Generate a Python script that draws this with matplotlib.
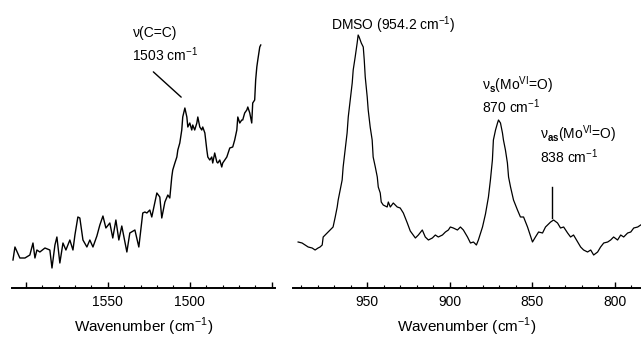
import matplotlib
matplotlib.use("Agg")
import matplotlib.pyplot as plt
from matplotlib.ticker import MultipleLocator, FixedLocator, FixedFormatter

plt.rcParams['font.family'] = ['Liberation Sans', 'DejaVu Sans']
plt.rcParams['mathtext.fontset'] = 'custom'
plt.rcParams['mathtext.rm'] = 'Liberation Sans'
plt.rcParams['mathtext.bf'] = 'Liberation Sans:bold'

# left spectrum (C=C region), intensity in arbitrary units
wn_cc = [1607.9, 1606.7, 1603.7, 1600.6, 1597.6, 1595.7, 1594.5, 1593.3, 1591.5, 1588.4,
         1585.4, 1584.1, 1582.3, 1581.1, 1579.3, 1577.4, 1575.6, 1573.2, 1571.3, 1570.1,
         1568.3, 1567.1, 1565.2, 1562.8, 1561.0, 1559.1, 1556.7, 1554.9, 1553.0, 1551.2,
         1548.8, 1547.0, 1545.1, 1543.3, 1541.5, 1538.4, 1536.6, 1533.5, 1531.1, 1528.7,
         1527.4, 1526.2, 1524.4, 1523.2, 1520.1, 1518.3, 1517.1, 1515.2, 1513.4, 1512.2,
         1511.0, 1510.4, 1509.1, 1507.9, 1507.3, 1506.1, 1504.9, 1504.3, 1503.0, 1501.8,
         1501.2, 1500.0, 1498.8, 1498.2, 1497.0, 1495.7, 1495.1, 1493.9, 1492.7, 1492.1,
         1490.8, 1489.6, 1489.0, 1487.8, 1486.6, 1486.0, 1484.8, 1483.5, 1482.9, 1481.7,
         1480.5, 1479.9, 1477.4, 1475.6, 1473.8, 1472.6, 1471.3, 1470.7, 1469.5, 1468.3,
         1467.7, 1466.5, 1465.2, 1464.6, 1463.4, 1462.2, 1461.6, 1460.4, 1459.8, 1459.1,
         1458.5, 1457.3, 1456.7]
int_cc = [28, 41, 30, 30, 33, 45, 30, 38, 36, 40,
          38, 20, 43, 51, 25, 45, 38, 48, 38, 53,
          71, 70, 48, 41, 48, 41, 52, 63, 72, 60,
          65, 50, 68, 48, 62, 36, 55, 58, 41, 75,
          76, 75, 78, 71, 95, 91, 70, 86, 93, 90,
          111, 118, 125, 131, 138, 145, 158, 171, 180, 171,
          161, 165, 158, 163, 158, 165, 171, 161, 158, 161,
          155, 138, 131, 128, 131, 125, 135, 126, 125, 128,
          121, 125, 131, 140, 141, 148, 158, 171, 165, 168,
          168, 175, 178, 181, 175, 165, 185, 188, 208, 221,
          228, 241, 243]

# right spectrum (Mo=O region)
wn_mo = [991.9, 989.5, 987.7, 985.8, 983.4, 981.6, 979.8, 978.6, 977.3, 976.7,
         974.3, 972.5, 970.7, 969.4, 968.2, 967.6, 966.4, 965.2, 964.6, 963.4,
         962.2, 961.5, 960.3, 959.1, 958.5, 957.3, 956.1, 955.5, 954.9, 953.6,
         952.4, 951.8, 951.2, 950.0, 949.4, 948.2, 947.0, 946.4, 945.1, 943.9,
         943.3, 942.1, 941.5, 940.3, 937.9, 937.2, 936.0, 934.2, 931.8, 930.0,
         928.1, 925.7, 923.9, 920.8, 919.0, 916.6, 914.8, 912.9, 910.5, 908.7,
         906.9, 904.4, 902.6, 900.8, 899.6, 897.8, 895.3, 893.5, 891.7, 889.2,
         887.4, 885.6, 883.8, 882.6, 880.1, 878.3, 876.5, 875.3, 874.1, 873.5,
         872.2, 871.0, 870.4, 869.2, 868.0, 867.4, 866.2, 865.0, 864.3, 863.1,
         861.3, 858.9, 857.1, 855.2, 852.8, 849.8, 848.0, 846.1, 843.7, 841.9,
         838.8, 837.0, 834.6, 832.8, 830.9, 828.5, 826.7, 824.9, 822.4, 820.6,
         818.8, 816.4, 814.5, 812.7, 810.3, 808.5, 806.6, 804.2, 802.4, 800.6,
         798.2, 796.3, 794.5, 792.1, 790.2, 788.4, 786.0, 784.2]
int_mo = [46, 45, 43, 41, 40, 38, 40, 41, 43, 51,
          55, 58, 61, 71, 81, 88, 98, 108, 121, 138,
          155, 171, 188, 205, 218, 231, 245, 253, 251, 245,
          241, 228, 211, 191, 178, 161, 148, 131, 121, 111,
          101, 95, 86, 83, 81, 86, 81, 85, 81, 80,
          75, 65, 57, 50, 53, 58, 51, 48, 50, 53,
          51, 53, 56, 58, 61, 60, 58, 61, 58, 51,
          45, 46, 43, 48, 61, 74, 91, 108, 128, 148,
          158, 165, 168, 165, 155, 148, 138, 125, 111, 101,
          88, 78, 71, 71, 61, 46, 51, 56, 55, 61,
          66, 68, 65, 60, 61, 55, 51, 53, 46, 41,
          38, 36, 38, 33, 36, 41, 45, 46, 48, 51,
          48, 53, 51, 55, 56, 60, 61, 63]

W, H = 641, 340
fig = plt.figure(figsize=(W / 100, H / 100), dpi=100)
ax1 = fig.add_axes([12 / W, 52 / H, 263 / W, 288 / H])
ax2 = fig.add_axes([293 / W, 52 / H, 348 / W, 288 / H])

for ax in (ax1, ax2):
    for s in ('top', 'left', 'right'):
        ax.spines[s].set_visible(False)
    ax.spines['bottom'].set_linewidth(1.4)
    ax.set_yticks([])
    ax.set_ylim(0, 288)
    ax.xaxis.set_minor_locator(MultipleLocator(10))
    ax.tick_params(axis='x', which='major', direction='in', length=4, width=1, labelsize=10, pad=5)
    ax.tick_params(axis='x', which='minor', direction='in', length=2.2, width=0.8)
    ax.set_xlabel('Wavenumber (cm$^{-1}$)', fontsize=11, labelpad=5)

ax1.plot(wn_cc, int_cc, color='black', lw=1.0)
ax1.set_xlim(1608.5, 1448)
ax1.xaxis.set_major_locator(FixedLocator([1600, 1550, 1500, 1450]))
ax1.xaxis.set_major_formatter(FixedFormatter(['', '1550', '1500', '']))

ax2.plot(wn_mo, int_mo, color='black', lw=0.9, clip_on=False)
ax2.set_xlim(995, 784)
ax2.xaxis.set_major_locator(MultipleLocator(50))

# annotations
ax1.annotate('', xy=(1504.0, 189), xytext=(1523.5, 218),
             arrowprops=dict(arrowstyle='-', color='black', lw=1))
ax1.text(1535, 255, 'ν(C=C)', fontsize=10, va='center', ha='left')
ax1.text(1535, 233, '1503 cm$^{-1}$', fontsize=10, va='center', ha='left')

ax2.text(972, 263, 'DMSO (954.2 cm$^{-1}$)', fontsize=10, va='center', ha='left')
ax2.text(880.5, 203, r'ν$_{\mathbf{s}}$(Mo$^{\mathrm{VI}}$=O)', fontsize=10, va='center', ha='left')
ax2.text(880.5, 181, '870 cm$^{-1}$', fontsize=10, va='center', ha='left')
ax2.text(845.5, 154, r'ν$_{\mathbf{as}}$(Mo$^{\mathrm{VI}}$=O)', fontsize=10, va='center', ha='left')
ax2.text(845.5, 131, '838 cm$^{-1}$', fontsize=10, va='center', ha='left')
ax2.plot([838.0, 838.0], [101, 70], color='black', lw=1)

fig.savefig('out.png', dpi=100)
